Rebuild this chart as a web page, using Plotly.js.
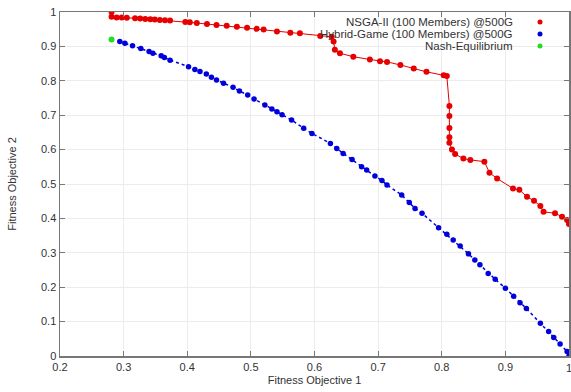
<!DOCTYPE html>
<html>
<head>
<meta charset="utf-8">
<script src="https://cdn.plot.ly/plotly-3.0.1.min.js"></script>
<style>html,body{margin:0;padding:0;background:#fff;}#chart{width:571px;height:392px;}</style>
</head>
<body>
<div id="chart"></div>
<script>
// NSGA-II front
const nsgaX = [0.281,0.281,0.289,0.297,0.305,0.318,0.326,0.334,0.342,0.349,0.357,0.365,0.373,0.397,0.404,0.415,0.431,0.446,0.462,0.478,0.494,0.509,0.520,0.541,0.562,0.577,0.609,0.627,0.630,0.632,0.640,0.661,0.687,0.703,0.714,0.735,0.756,0.776,0.803,0.808,0.812,0.812,0.812,0.812,0.812,0.816,0.821,0.834,0.845,0.867,0.875,0.887,0.912,0.922,0.934,0.945,0.955,0.960,0.978,0.989,0.997,1.0];
const nsgaY = [1.0,0.986,0.984,0.984,0.983,0.982,0.981,0.980,0.979,0.978,0.977,0.976,0.975,0.971,0.970,0.968,0.965,0.962,0.960,0.957,0.954,0.951,0.949,0.943,0.940,0.938,0.930,0.928,0.914,0.890,0.880,0.870,0.862,0.857,0.855,0.846,0.836,0.826,0.816,0.814,0.727,0.698,0.663,0.636,0.620,0.600,0.587,0.574,0.570,0.565,0.533,0.516,0.487,0.483,0.463,0.451,0.436,0.419,0.415,0.405,0.395,0.384];
// Hybrid-Game front
const hybX = [0.294,0.302,0.314,0.327,0.340,0.346,0.359,0.364,0.373,0.402,0.412,0.420,0.430,0.438,0.446,0.457,0.472,0.482,0.495,0.505,0.522,0.533,0.541,0.549,0.564,0.583,0.596,0.625,0.635,0.645,0.659,0.674,0.682,0.695,0.706,0.714,0.737,0.749,0.758,0.769,0.795,0.808,0.818,0.829,0.842,0.852,0.860,0.873,0.884,0.900,0.913,0.923,0.933,0.955,0.968,0.976,0.986,0.997,1.0];
const hybY = [0.914,0.909,0.902,0.894,0.885,0.880,0.873,0.868,0.860,0.841,0.833,0.827,0.820,0.810,0.802,0.793,0.781,0.770,0.759,0.747,0.730,0.718,0.710,0.701,0.686,0.662,0.647,0.618,0.603,0.589,0.571,0.550,0.541,0.523,0.510,0.497,0.468,0.446,0.429,0.415,0.373,0.354,0.337,0.320,0.297,0.279,0.265,0.240,0.223,0.197,0.174,0.155,0.138,0.095,0.071,0.054,0.035,0.013,0.0];
// Nash equilibrium
const nashX = [0.281];
const nashY = [0.920];
const legendLabels = ["NSGA-II (100 Members) @500G","Hybrid-Game (100 Members) @500G","Nash-Equilibrium"];
const legendColors = ["#e60000","#0000dd","#22dd22"];
const lastXTick = 1;

const FONT = 'Liberation Sans, Arial, sans-serif';
const traces = [
  {x: hybX, y: hybY, mode: 'lines+markers', line:{color:'#0000dd', width:1.5, dash:'dot'}, marker:{color:'#0000dd', size:5.5}, showlegend:false},
  {x: nashX, y: nashY, mode: 'markers', marker:{color:'#22dd22', size:6}, showlegend:false},
  {x: nsgaX, y: nsgaY, mode: 'lines+markers', line:{color:'#e60000', width:1}, marker:{color:'#e60000', size:6}, showlegend:false}
];

const W = 571, H = 392, L = 60, R = 2, T = 12, B = 36;
const pw = W - L - R, ph = H - T - B;
const annotations = [], shapes = [];
legendLabels.forEach((t, i) => {
  const yPix = 22 + i * 12;
  const yp = 1 - (yPix - T) / ph;
  annotations.push({xref:'paper', yref:'paper', x:(515 - L)/pw, y:yp, xanchor:'right', yanchor:'middle', text:t, showarrow:false, font:{family:FONT, size:11.5, color:'#333'}});
  const cx = (540 - L)/pw, r = 2.5;
  shapes.push({type:'circle', xref:'paper', yref:'paper', x0:cx - r/pw, x1:cx + r/pw, y0:yp - r/ph, y1:yp + r/ph, fillcolor:legendColors[i], line:{width:0}});
});
// last x tick label (partly cut at the right edge, as in the reference)
annotations.push({xref:'x', yref:'paper', x:lastXTick, y:-12/ph, xanchor:'center', yanchor:'middle', text:String(lastXTick), showarrow:false, font:{family:FONT, size:11, color:'#333'}});

const axisCommon = {
  showline:true, mirror:'ticks', linecolor:'#777', linewidth:1.5,
  ticks:'inside', ticklen:5, tickcolor:'#777', tickwidth:1,
  showgrid:true, gridcolor:'#ececec', gridwidth:1, zeroline:false,
  tickfont:{family:FONT, size:11, color:'#333'}
};

const layout = {
  width:W, height:H, margin:{l:L, r:R, t:T, b:B}, paper_bgcolor:'#fff', plot_bgcolor:'#fff',
  showlegend:false,
  xaxis: Object.assign({}, axisCommon, {range:[0.2,1], dtick:0.1, tick0:0.2,
    title:{text:'Fitness Objective 1', standoff:4, font:{family:FONT, size:11, color:'#333'}}}),
  yaxis: Object.assign({}, axisCommon, {range:[0,1], dtick:0.1, tick0:0,
    title:{text:'Fitness Objective 2', standoff:22, font:{family:FONT, size:11, color:'#333'}}}),
  annotations: annotations, shapes: shapes
};

Plotly.newPlot('chart', traces, layout, {staticPlot:true, displayModeBar:false});
</script>
</body>
</html>
